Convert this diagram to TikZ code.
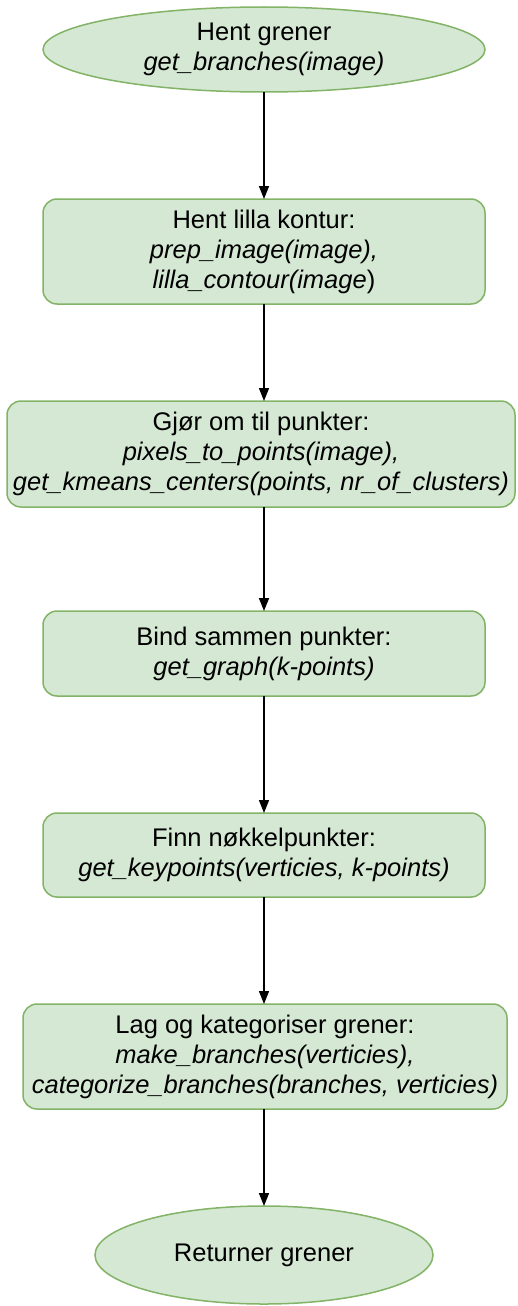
\documentclass[tikz,border=0pt]{standalone}
\usepackage{fontspec}
\setmainfont{Liberation Sans}
\usetikzlibrary{arrows.meta,shapes.geometric}
\definecolor{gfill}{HTML}{D5E8D4}
\definecolor{gline}{HTML}{82B366}
\begin{document}
\begin{tikzpicture}[x=1pt,y=-1pt,
  every node/.style={inner sep=0pt,outer sep=0pt,align=center,font=\fontsize{25.5}{30}\selectfont},
  stepbox/.style={draw=gline,fill=gfill,line width=1.5pt,rounded corners=14pt,rectangle},
  termbox/.style={draw=gline,fill=gfill,line width=1.5pt,ellipse},
  flow/.style={draw=black,line width=1.5pt,-{Triangle[length=13pt,width=10pt]}}]
\useasboundingbox (0,0) rectangle (517,1306);
\node[termbox,minimum width=442pt,minimum height=85pt] (e1) at (264,49.5)
  {Hent grener\\\textit{get\_branches(image)}};
\node[stepbox,minimum width=442pt,minimum height=105pt] (b1) at (264,251.5)
  {Hent lilla kontur:\\\textit{prep\_image(image),}\\\textit{lilla\_contour(image}) };
\node[stepbox,minimum width=508pt,minimum height=106pt] (b2) at (261,454)
  {Gjør om til punkter:\\\textit{pixels\_to\_points(image),}\\\textit{get\_kmeans\_centers(points, nr\_of\_clusters)}};
\node[stepbox,minimum width=442pt,minimum height=85pt] (b3) at (264,653.5)
  {Bind sammen punkter:\\\textit{get\_graph(k-points)}};
\node[stepbox,minimum width=442pt,minimum height=84pt] (b4) at (264,855)
  {Finn nøkkelpunkter:\\\textit{get\_keypoints(verticies, k-points)}};
\node[stepbox,minimum width=484pt,minimum height=105pt] (b5) at (265,1056.5)
  {Lag og kategoriser grener:\\\textit{make\_branches(verticies),}\\\textit{categorize\_branches(branches, verticies)}};
\node[termbox,minimum width=338pt,minimum height=98pt] (e2) at (264,1255)
  {Returner grener};
\draw[flow] (e1.south) -- (e1.south |- b1.north);
\draw[flow] (b1.south) -- (b1.south |- b2.north);
\draw[flow] (b3.north |- b2.south) -- (b3.north);
\draw[flow] (b3.south) -- (b4.north);
\draw[flow] (b4.south) -- (b4.south |- b5.north);
\draw[flow] (b4.south |- b5.south) -- (e2.north);
\end{tikzpicture}
\end{document}
